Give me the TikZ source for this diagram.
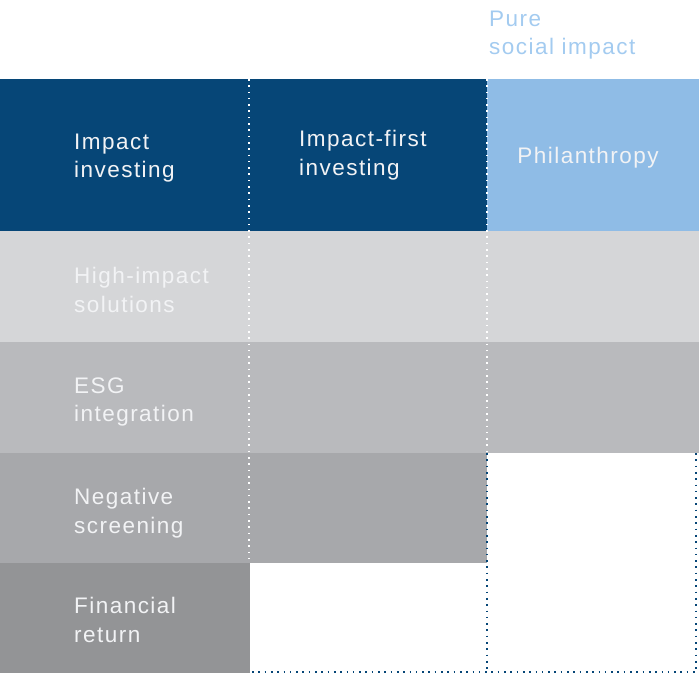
\documentclass[tikz,border=0pt]{standalone}
\usepackage{fontspec}
\setmainfont{Liberation Sans}[LetterSpace=6.5]
\definecolor{darkblue}{HTML}{064677}
\definecolor{lightblue}{HTML}{8FBCE6}
\definecolor{toptext}{HTML}{A3CBF0}
\definecolor{greyA}{HTML}{D5D6D8}
\definecolor{greyB}{HTML}{B9BABD}
\definecolor{greyC}{HTML}{A7A8AB}
\definecolor{greyD}{HTML}{939496}
\definecolor{txtlight}{HTML}{F2F3F5}
\tikzset{
  lbl/.style={anchor=west, align=left, inner sep=0pt, text=txtlight,
    font=\fontsize{22.5}{28.5}\selectfont},
  whitedots/.style={draw=white, line width=1.6pt, dash pattern=on 1.6pt off 4.7pt},
  bluedots/.style={draw=darkblue, line width=1.6pt, dash pattern=on 1.6pt off 4.7pt}
}
\begin{document}
\begin{tikzpicture}[x=1pt,y=-1pt]
\useasboundingbox (0,0) rectangle (699,676);
% cells
\fill[darkblue] (0,79) rectangle (487,231);
\fill[lightblue] (487,79) rectangle (699,231);
\fill[greyA] (0,231) rectangle (699,342);
\fill[greyB] (0,342) rectangle (699,453);
\fill[greyC] (0,453) rectangle (487,563);
\fill[greyD] (0,563) rectangle (250,673);
% coordinates for dotted lines
\coordinate (a1) at (249,79);
\coordinate (a2) at (249,563);
\coordinate (b1) at (487,79);
\coordinate (b2) at (487,453);
\coordinate (b3) at (487,672);
\coordinate (c1) at (696,453);
\coordinate (c2) at (696,672);
\coordinate (d1) at (252,672);
\draw[whitedots] (a1) -- (a2);
\draw[whitedots] (b1) -- (b2);
\draw[bluedots] (b2) -- (b3);
\draw[bluedots] (c1) -- (c2);
\draw[bluedots] (d1) -- (c2);
% labels
\node[lbl] (t1) at (74,158) {Impact\\investing};
\node[lbl] (t2) at (299,155) {Impact-first\\investing};
\node[lbl, anchor=center] (t3) at (588,158) {Philanthropy};
\node[lbl] (t4) at (74,290) {High-impact\\solutions};
\node[lbl] (t5) at (74,402) {ESG\\integration};
\node[lbl] (t6) at (74,513) {Negative\\screening};
\node[lbl] (t7) at (74,620) {Financial\\return};
\node[lbl, text=toptext] (t8) at (489,35) {Pure\\social impact};
\end{tikzpicture}
\end{document}
